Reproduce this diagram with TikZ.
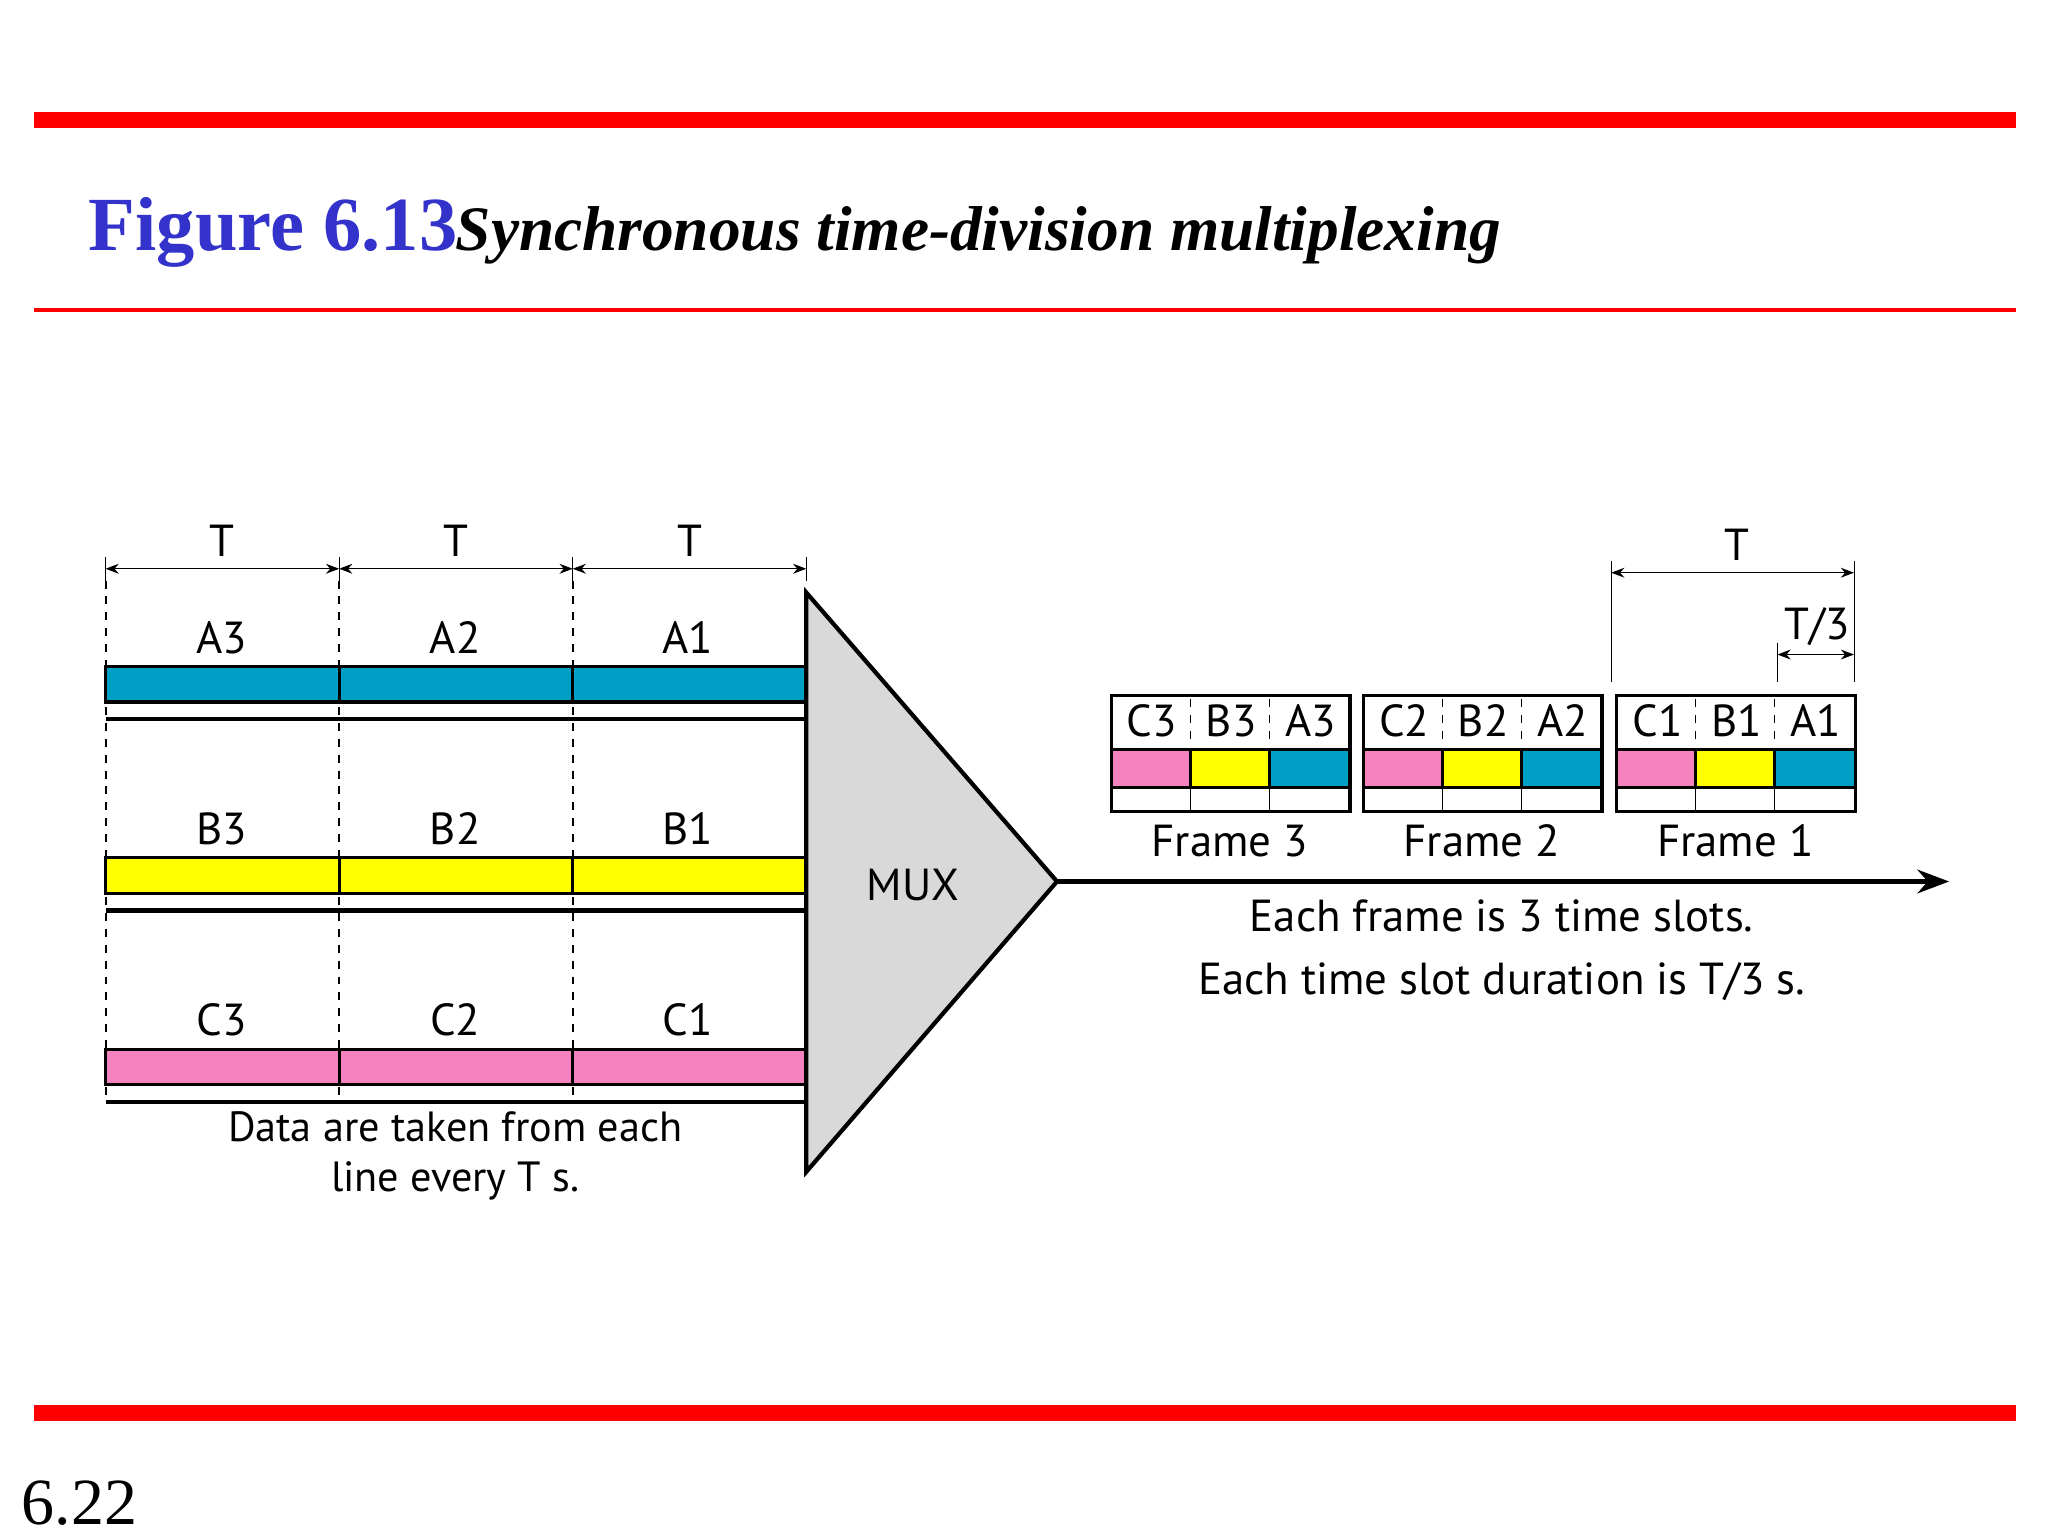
\documentclass[tikz,border=0pt]{standalone}
\usepackage{fontspec}
\setmainfont{Liberation Serif}
\newfontfamily\lab{PT Sans}
\usetikzlibrary{arrows.meta}
\definecolor{cy}{RGB}{0,160,198}
\definecolor{ye}{RGB}{255,255,0}
\definecolor{pk}{RGB}{244,130,190}
\definecolor{rd}{RGB}{255,0,0}
\definecolor{tb}{RGB}{51,51,204}
\definecolor{mg}{RGB}{217,217,217}
\tikzset{
 lbl/.style={font=\lab\fontsize{17}{20}\selectfont, inner sep=0pt},
 dim/.style={thin,{Stealth[length=5pt]}-{Stealth[length=5pt]}},
 bar/.style={draw=black,line width=1.2pt},
}
\begin{document}
\begin{tikzpicture}[x=0.5pt,y=-0.5pt]
\useasboundingbox (0,0) rectangle (1552,1164);
% red rules
\draw[rd,line width=6pt] (26,91) -- (1528,91);
\draw[rd,line width=1.5pt] (26,235) -- (1528,235);
\draw[rd,line width=6pt] (26,1071) -- (1528,1071);
\node[anchor=base west,inner sep=0pt,text=tb,font=\bfseries\fontsize{29}{32}\selectfont] (fig) at (67,190) {Figure 6.13};
\node[anchor=base west,inner sep=0pt,font=\bfseries\itshape\fontsize{24}{28}\selectfont] (cap) at (345,190) {Synchronous time-division multiplexing};
\node[anchor=base west,inner sep=0pt,font=\fontsize{25}{28}\selectfont] (pg) at (16,1155) {6.22};
% dashed verticals
\foreach \x in {80,257,434} \draw[dashed,thick] (\x,440) -- (\x,832);
% dimension arrows
\foreach \x in {80,257,434,611} \draw[thin] (\x,422) -- (\x,440);
\foreach \a/\b in {80/257,257/434,434/611}{
 \draw[dim] (\a,431) -- (\b,431);
 \node[lbl] at ({(\a+\b)/2},410) {T};}
% rows
\foreach \y/\c/\l in {505/cy/A,650/ye/B,795/pk/C}{
 \draw[bar,fill=\c] (80,\y) rectangle (611,\y+27);
 \draw[line width=1.2pt] (257,\y) -- (257,\y+27) (434,\y) -- (434,\y+27);
 \draw[line width=1.6pt] (80,\y+40) -- (611,\y+40);
 \node[lbl] at (168,\y-22) {\l3};
 \node[lbl] at (345,\y-22) {\l2};
 \node[lbl] at (521,\y-22) {\l1};}
\node[lbl,align=center,font=\lab\fontsize{16}{19}\selectfont] (data) at (345,876) {Data are taken from each\\line every T s.};
% MUX
\draw[line width=1.6pt,fill=mg] (611,449) -- (611,888) -- (801,668) -- cycle;
\node[lbl] (mux) at (692,671) {MUX};
\coordinate (out) at (801,668);
\coordinate (end) at (1477,668);
\draw[line width=1.6pt,-{Stealth[length=12pt,width=9pt]}] (out) -- (end);
% frames
\foreach \x/\n in {842/3,1033/2,1225/1}{
 \draw[line width=1.2pt] (\x,527) rectangle (\x+181,615);
 \draw[line width=1.2pt,fill=pk] (\x,568) rectangle (\x+60,597);
 \draw[line width=1.2pt,fill=ye] (\x+60,568) rectangle (\x+120,597);
 \draw[line width=1.2pt,fill=cy] (\x+120,568) rectangle (\x+181,597);
 \draw[thin] (\x+60,597) -- (\x+60,615) (\x+120,597) -- (\x+120,615);
 \draw[thin,dashed] (\x+60,530) -- (\x+60,565) (\x+120,530) -- (\x+120,565);
 \node[lbl] at (\x+31,546) {C\n};
 \node[lbl] at (\x+91,546) {B\n};
 \node[lbl] at (\x+151,546) {A\n};
 \node[lbl] at (\x+90,637) {Frame \n};}
% T and T/3 dims
\draw[thin] (1221,425) -- (1221,517) (1405,425) -- (1405,517) (1347,487) -- (1347,517);
\draw[dim] (1221,434) -- (1405,434);
\node[lbl] at (1316,413) {T};
\draw[dim] (1347,496) -- (1405,496);
\node[lbl] at (1377,475) {T/3};
\node[lbl,align=center] (note) at (1138,720) {Each frame is 3 time slots.\\[4pt]Each time slot duration is T/3 s.};
\end{tikzpicture}
\end{document}
